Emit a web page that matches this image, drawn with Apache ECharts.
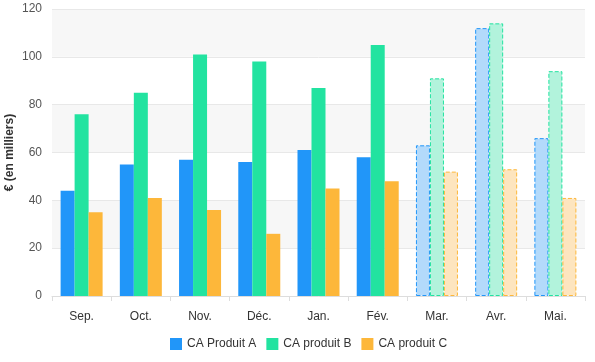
<!DOCTYPE html>
<html>
<head>
<meta charset="utf-8">
<script src="https://cdn.jsdelivr.net/npm/echarts@6/dist/echarts.min.js"></script>
<style>html,body{margin:0;padding:0;background:#fff}#c{width:595px;height:362px}</style>
</head>
<body>
<div id="c"></div>
<script>
var categories = ['Sep.', 'Oct.', 'Nov.', 'Déc.', 'Jan.', 'Fév.', 'Mar.', 'Avr.', 'Mai.'];
var seriesNames = ['CA Produit A', 'CA produit B', 'CA produit C'];
var valuesA = [44, 55, 57, 56, 61, 58, 63, 112, 66];
var valuesB = [76, 85, 101, 98, 87, 105, 91, 114, 94];
var valuesC = [35, 41, 36, 26, 45, 48, 52, 53, 41];
var forecast = [false, false, false, false, false, false, true, true, true];
var yTicks = [0, 20, 40, 60, 80, 100, 120];

var colors = ['#2196f9', '#22e3a0', '#fdb73a'];
var lightColors = ['#b3dafb', '#b2f3dc', '#fde5bf'];

function build(vals, idx) {
  return vals.map(function (v, i) {
    if (forecast[i]) {
      return {
        value: v,
        itemStyle: {
          color: lightColors[idx],
          borderColor: colors[idx],
          borderWidth: 1,
          borderType: [4, 2]
        }
      };
    }
    return { value: v };
  });
}

var chart = echarts.init(document.getElementById('c'), null, { renderer: 'canvas' });
var font = 'Liberation Sans, Arial, sans-serif';
chart.setOption({
  animation: false,
  color: colors,
  textStyle: { fontFamily: font },
  grid: { left: 52, right: 10, top: 9, bottom: 66, outerBoundsMode: 'none', containLabel: false },
  legend: {
    top: 333,
    left: 165,
    icon: 'rect',
    itemWidth: 12,
    itemHeight: 12,
    itemGap: 10,
    textStyle: { fontSize: 12, color: '#333', fontFamily: font },
    data: seriesNames
  },
  xAxis: {
    type: 'category',
    data: categories,
    axisLine: { lineStyle: { color: '#ddd' } },
    axisTick: { show: true, length: 5, lineStyle: { color: '#ddd' } },
    axisLabel: { color: '#333', fontSize: 12, margin: 15, fontFamily: font }
  },
  yAxis: {
    type: 'value',
    min: yTicks[0],
    max: yTicks[yTicks.length - 1],
    interval: 20,
    name: '€ (en milliers)',
    nameLocation: 'middle',
    nameGap: 36,
    nameMoveOverlap: false,
    nameTextStyle: { fontWeight: 'bold', fontSize: 12, color: '#333', fontFamily: font },
    axisLine: { show: false },
    axisTick: { show: false },
    axisLabel: { color: '#555', fontSize: 12, margin: 10, fontFamily: font },
    splitLine: { lineStyle: { color: '#e8e8e8' } },
    splitArea: { show: true, areaStyle: { color: ['#ffffff', '#f7f7f7'] } }
  },
  series: [
    { name: seriesNames[0], type: 'bar', barWidth: 14, barGap: '0%', data: build(valuesA, 0) },
    { name: seriesNames[1], type: 'bar', barWidth: 14, barGap: '0%', data: build(valuesB, 1) },
    { name: seriesNames[2], type: 'bar', barWidth: 14, barGap: '0%', data: build(valuesC, 2) }
  ]
});
</script>
</body>
</html>
